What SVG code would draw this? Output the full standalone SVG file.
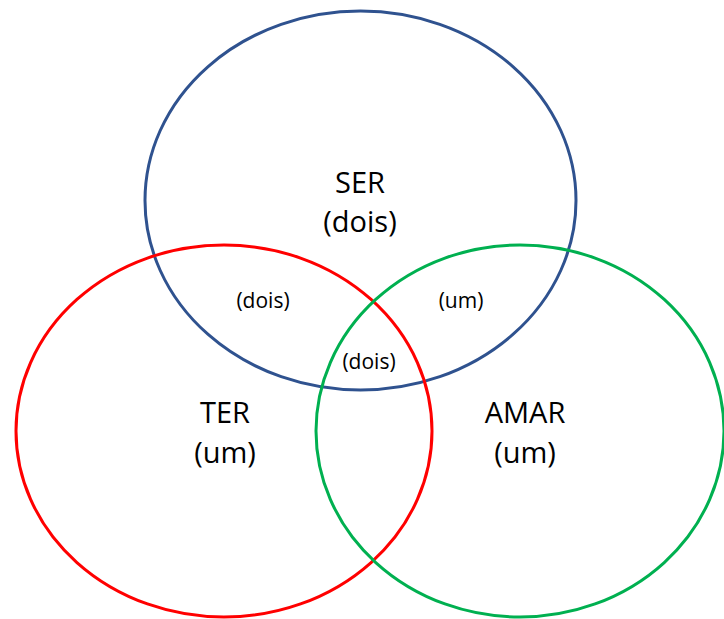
<svg xmlns="http://www.w3.org/2000/svg" width="724" height="619" viewBox="0 0 724 619">
<style>
.c{fill:none;stroke-width:3}
.big{font-family:"Open Sans","Liberation Sans",sans-serif;font-size:29px;fill:#000;text-anchor:middle}
.sm{font-family:"Open Sans","Liberation Sans",sans-serif;font-size:21px;fill:#000;text-anchor:middle}
</style>
<rect width="724" height="619" fill="#fff"/>
<g id="ser"><ellipse class="c" cx="360.5" cy="200.5" rx="215.5" ry="189.5" stroke="#2F528F"/></g>
<g id="ter"><ellipse class="c" cx="224" cy="431" rx="208" ry="186" stroke="#FF0000"/></g>
<g id="amar"><ellipse class="c" cx="520" cy="431" rx="204" ry="186" stroke="#00B050"/></g>
<g id="labels">
<text class="big" x="360" y="193">SER</text>
<text class="big" x="360" y="232">(dois)</text>
<text class="big" x="225" y="423">TER</text>
<text class="big" x="225" y="463">(um)</text>
<text class="big" x="525" y="423">AMAR</text>
<text class="big" x="525" y="463">(um)</text>
<text class="sm" x="263" y="308">(dois)</text>
<text class="sm" x="461" y="308">(um)</text>
<text class="sm" x="369" y="369">(dois)</text>
</g>
</svg>
